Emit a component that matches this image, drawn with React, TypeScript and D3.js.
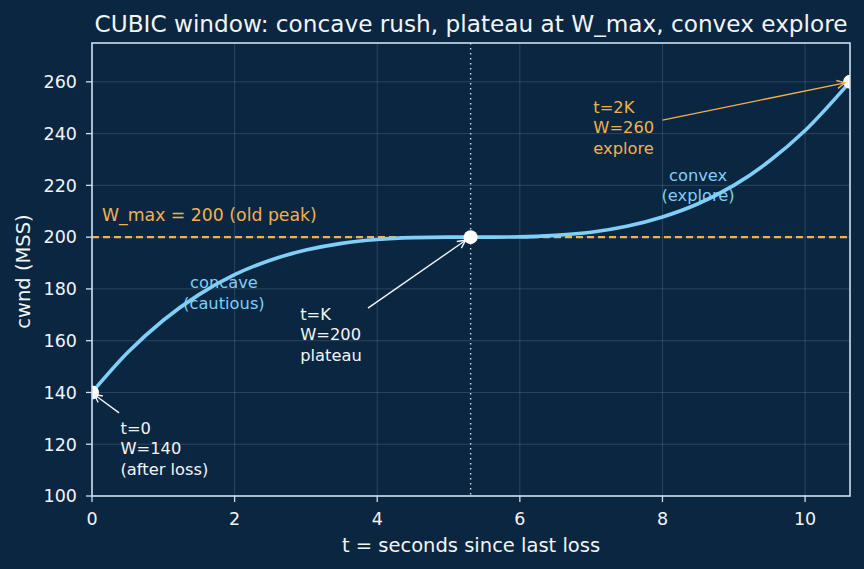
import React from "react";
import * as d3 from "d3";

// cwnd samples along the cubic window curve
const tValues = [0, 0.5, 1, 1.5, 2, 2.5, 3, 3.5, 4, 4.5, 5, 5.31, 5.5, 6, 6.5, 7, 7.5, 8, 8.5, 9, 9.5, 10, 10.63];
const wValues = [140, 155.4, 167.9, 177.8, 185.5, 191.1, 195, 197.6, 199.1, 199.8, 200, 200, 200, 200.1, 200.7, 201.9, 204.2, 207.8, 212.9, 220, 229.4, 241.2, 260];

const W_MAX = 200;
const K = 5.31;
const T_END = 10.63;

const keyPoints = [
  { t: 0, w: 140 },
  { t: K, w: 200 },
  { t: T_END, w: 260 },
];

const xTicks = [0, 2, 4, 6, 8, 10];
const yTicks = [100, 120, 140, 160, 180, 200, 220, 240, 260];

const W = 864;
const H = 569;
const M = { top: 43, right: 14, bottom: 73, left: 92 };
const BG = "#0b2640";
const AXIS = "#cfdff0";
const CURVE = "#7fcff8";
const ORANGE = "#f0b24e";
const TEXT = "#f2f5f8";
const FONT = "DejaVu Sans, sans-serif";

export default function App() {
  const iw = W - M.left - M.right;
  const ih = H - M.top - M.bottom;
  const x = d3.scaleLinear().domain([0, T_END]).range([0, iw]);
  const y = d3.scaleLinear().domain([100, 275]).range([ih, 0]);

  const data = tValues.map((t, i) => ({ t, w: wValues[i] }));
  const line = d3
    .line<{ t: number; w: number }>()
    .x((d) => x(d.t))
    .y((d) => y(d.w))
    .curve(d3.curveMonotoneX);

  // multi-line annotation, py is the first baseline
  const label = (lines: string[], px: number, py: number, color: string, anchor = "start") => (
    <text x={px} y={py} fill={color} fontSize={16.3} textAnchor={anchor}>
      {lines.map((s, i) => (
        <tspan key={i} x={px} dy={i === 0 ? 0 : 20.5}>
          {s}
        </tspan>
      ))}
    </text>
  );

  return (
    <svg width={W} height={H} style={{ position: "absolute", left: 0, top: 0, background: BG }} fontFamily={FONT}>
      <defs>
        <clipPath id="plot">
          <rect x={0} y={0} width={iw} height={ih} />
        </clipPath>
        <marker id="arrW" viewBox="-10 -6 12 12" refX={0} refY={0} markerWidth={12} markerHeight={12} markerUnits="userSpaceOnUse" orient="auto">
          <path d="M-8,-4 L0,0 L-8,4" fill="none" stroke={TEXT} strokeWidth={1.4} />
        </marker>
        <marker id="arrO" viewBox="-10 -6 12 12" refX={0} refY={0} markerWidth={12} markerHeight={12} markerUnits="userSpaceOnUse" orient="auto">
          <path d="M-8,-4 L0,0 L-8,4" fill="none" stroke={ORANGE} strokeWidth={1.4} />
        </marker>
      </defs>
      <rect width={W} height={H} fill={BG} />
      <text x={M.left + iw / 2} y={32} textAnchor="middle" fill={TEXT} fontSize={23.2}>
        CUBIC window: concave rush, plateau at W_max, convex explore
      </text>
      <g transform={`translate(${M.left},${M.top})`}>
        {/* grid */}
        {xTicks.map((t) => (
          <line key={"gx" + t} x1={x(t)} x2={x(t)} y1={0} y2={ih} stroke="#ffffff" strokeOpacity={0.18} strokeWidth={0.8} />
        ))}
        {yTicks.map((v) => (
          <line key={"gy" + v} x1={0} x2={iw} y1={y(v)} y2={y(v)} stroke="#ffffff" strokeOpacity={0.18} strokeWidth={0.8} />
        ))}

        {/* W_max and K reference lines */}
        <line x1={0} x2={iw} y1={y(W_MAX)} y2={y(W_MAX)} stroke={ORANGE} strokeWidth={2.2} strokeDasharray="7,4" />
        <line x1={x(K)} x2={x(K)} y1={0} y2={ih} stroke={AXIS} strokeWidth={1.4} strokeDasharray="1.5,3.5" />

        <g clipPath="url(#plot)">
          <path d={line(data) ?? ""} fill="none" stroke={CURVE} strokeWidth={3.6} />
          {keyPoints.map((p, i) => (
            <circle key={i} cx={x(p.t)} cy={y(p.w)} r={7} fill="#ffffff" />
          ))}
        </g>

        <text x={10} y={y(206.2)} fill={ORANGE} fontSize={17.3}>
          W_max = 200 (old peak)
        </text>

        {label(["concave", "(cautious)"], x(1.85), y(180.2), CURVE, "middle")}
        {label(["convex", "(explore)"], x(8.5), y(221.7), CURVE, "middle")}

        {/* annotations */}
        {label(["t=0", "W=140", "(after loss)"], x(0.4), y(124), TEXT)}
        <line x1={x(0.38)} y1={y(132.1)} x2={x(0.03)} y2={y(139.2)} stroke={TEXT} strokeWidth={1.4} markerEnd="url(#arrW)" />

        {label(["t=K", "W=200", "plateau"], x(2.92), y(168), TEXT)}
        <line x1={x(3.87)} y1={y(172.6)} x2={x(5.24)} y2={y(198.8)} stroke={TEXT} strokeWidth={1.4} markerEnd="url(#arrW)" />

        {label(["t=2K", "W=260", "explore"], x(7.03), y(248), ORANGE)}
        <line x1={x(8.0)} y1={y(245.2)} x2={x(10.56)} y2={y(259.6)} stroke={ORANGE} strokeWidth={1.4} markerEnd="url(#arrO)" />

        {/* axes */}
        <rect x={0} y={0} width={iw} height={ih} fill="none" stroke={AXIS} strokeWidth={1.6} />
        {xTicks.map((t) => (
          <g key={"tx" + t} transform={`translate(${x(t)},${ih})`}>
            <line y2={6} stroke={AXIS} strokeWidth={1.3} />
            <text y={29} textAnchor="middle" fill={TEXT} fontSize={17.5}>
              {t}
            </text>
          </g>
        ))}
        {yTicks.map((v) => (
          <g key={"ty" + v} transform={`translate(0,${y(v)})`}>
            <line x2={-6} stroke={AXIS} strokeWidth={1.3} />
            <text x={-15} dy="0.36em" textAnchor="end" fill={TEXT} fontSize={17.5}>
              {v}
            </text>
          </g>
        ))}
        <text x={iw / 2} y={ih + 56} textAnchor="middle" fill={TEXT} fontSize={19.5}>
          t = seconds since last loss
        </text>
        <text transform={`translate(${-62},${ih / 2 + 2}) rotate(-90)`} textAnchor="middle" fill={TEXT} fontSize={19.5}>
          cwnd (MSS)
        </text>
      </g>
    </svg>
  );
}
